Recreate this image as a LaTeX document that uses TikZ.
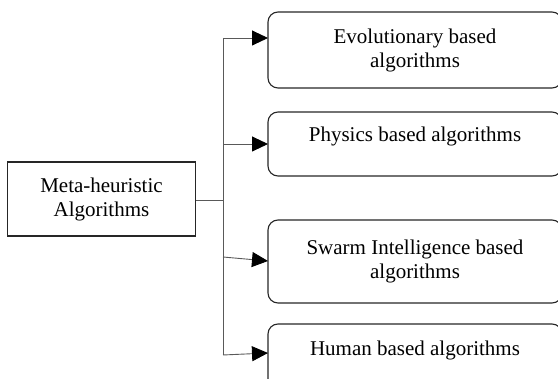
\documentclass[tikz,border=0pt]{standalone}
\usepackage{fontspec}
\setmainfont{Liberation Serif}
\usetikzlibrary{arrows.meta}
\begin{document}
\begin{tikzpicture}[x=1pt,y=-1pt,
  every node/.style={font=\fontsize{21}{24}\selectfont, align=center, inner sep=0pt},
  mainbox/.style={draw=black!85, line width=1.1pt, minimum width=188pt, minimum height=74pt},
  rbox/.style={draw=black!85, line width=1.1pt, rounded corners=10pt, minimum width=294pt},
  link/.style={draw=black!65, line width=0.9pt},
  arr/.style={link, -{Triangle[length=16pt,width=15pt,black]}}]
  \path[use as bounding box, clip] (0,0) rectangle (558,379);

  % source box
  \node[mainbox] (src) at (101.5,199) {Meta-heuristic\\Algorithms};

  % category boxes
  \node[rbox, minimum height=76pt] (e1) at (415,50) {Evolutionary based\\algorithms};
  \node[rbox, minimum height=64pt] (e2) at (415,144) {};
  \node (t2) at (415,136) {Physics based algorithms};
  \node[rbox, minimum height=83pt] (e3) at (415,261.5) {Swarm Intelligence based\\algorithms};
  \node[rbox, minimum height=70pt] (e4) at (415,359) {};
  \node (t4) at (415,350) {Human based algorithms};

  % branching tree
  \coordinate (j) at (223,200);
  \coordinate (b1) at (223,38);
  \coordinate (b2) at (223,144);
  \coordinate (b3) at (223,257);
  \coordinate (b4) at (223,355);
  \coordinate (h1) at (268,38);
  \coordinate (h2) at (268,144);
  \coordinate (h3) at (268,261);
  \coordinate (h4) at (268,353);

  \draw[link] (src.east |- j) -- (j);
  \draw[link] (b1) -- (b4);
  \draw[arr] (b1) -- (h1);
  \draw[arr] (b2) -- (h2);
  \draw[arr] (b3) -- (h3);
  \draw[arr] (b4) -- (h4);
\end{tikzpicture}
\end{document}
